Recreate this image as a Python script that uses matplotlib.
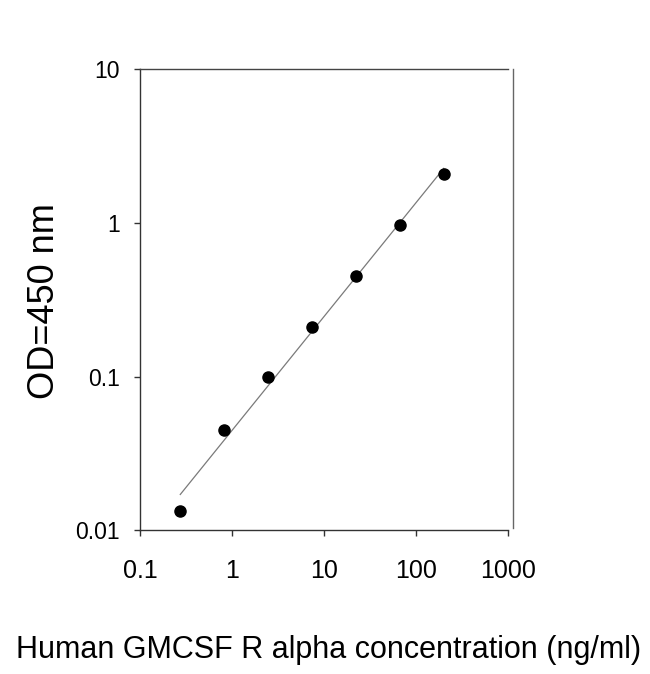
import numpy as np
import matplotlib
matplotlib.use("Agg")
import matplotlib.pyplot as plt

plt.rcParams['font.family'] = ['Liberation Sans', 'DejaVu Sans']

# standard curve, 3-fold dilutions
conc = [0.274, 0.823, 2.47, 7.41, 22.2, 66.7, 200.0]
od = [0.0133, 0.0448, 0.100, 0.210, 0.450, 0.975, 2.08]

x_ticks = [0.1, 1, 10, 100, 1000]
x_tick_labels = ["0.1", "1", "10", "100", "1000"]
y_ticks = [0.01, 0.1, 1, 10]
y_tick_labels = ["0.01", "0.1", "1", "10"]

xlabel = "Human GMCSF R alpha concentration (ng/ml)"
ylabel = "OD=450 nm"

fig = plt.figure(figsize=(6.5, 6.74), dpi=100)
ax = fig.add_axes([0.2154, 0.2136, 0.5662, 0.6833])

# linear fit in log-log space
lx = np.log10(conc)
ly = np.log10(od)
slope, intercept = np.polyfit(lx, ly, 1)
fx = np.array([lx.min(), lx.max()])
ax.plot(10 ** fx, 10 ** (slope * fx + intercept), color="#7a7a7a", lw=0.9, zorder=2)

ax.plot(conc, od, "o", color="black", markersize=8, zorder=3)

ax.set_xscale("log")
ax.set_yscale("log")
ax.set_xlim(0.1, 1000)
ax.set_ylim(0.01, 10)

for s in ["left", "bottom"]:
    ax.spines[s].set_color("#333333")
    ax.spines[s].set_linewidth(1.0)
ax.spines["top"].set_color("#444444")
ax.spines["top"].set_linewidth(1.0)
# the right frame line sits a little outside the plot area
ax.spines["right"].set_position(("outward", 3.6))
ax.spines["right"].set_bounds(0.0103, 10)
ax.spines["right"].set_color("#666666")
ax.spines["right"].set_linewidth(1.0)

ax.set_xticks(x_ticks)
ax.set_xticklabels(x_tick_labels)
ax.set_yticks(y_ticks)
ax.set_yticklabels(y_tick_labels)
ax.minorticks_off()
ax.tick_params(axis="x", direction="out", length=4, width=1, color="#333333",
               pad=17, labelsize=18)
ax.tick_params(axis="y", direction="out", length=4, width=1, color="#333333",
               pad=10.5, labelsize=16.5)

fig.text(0.069, 0.553, ylabel, rotation=90, ha="center", va="center", fontsize=26)
fig.text(0.505, 0.0356, xlabel, ha="center", va="center", fontsize=22)

fig.savefig("out.png", dpi=100)
